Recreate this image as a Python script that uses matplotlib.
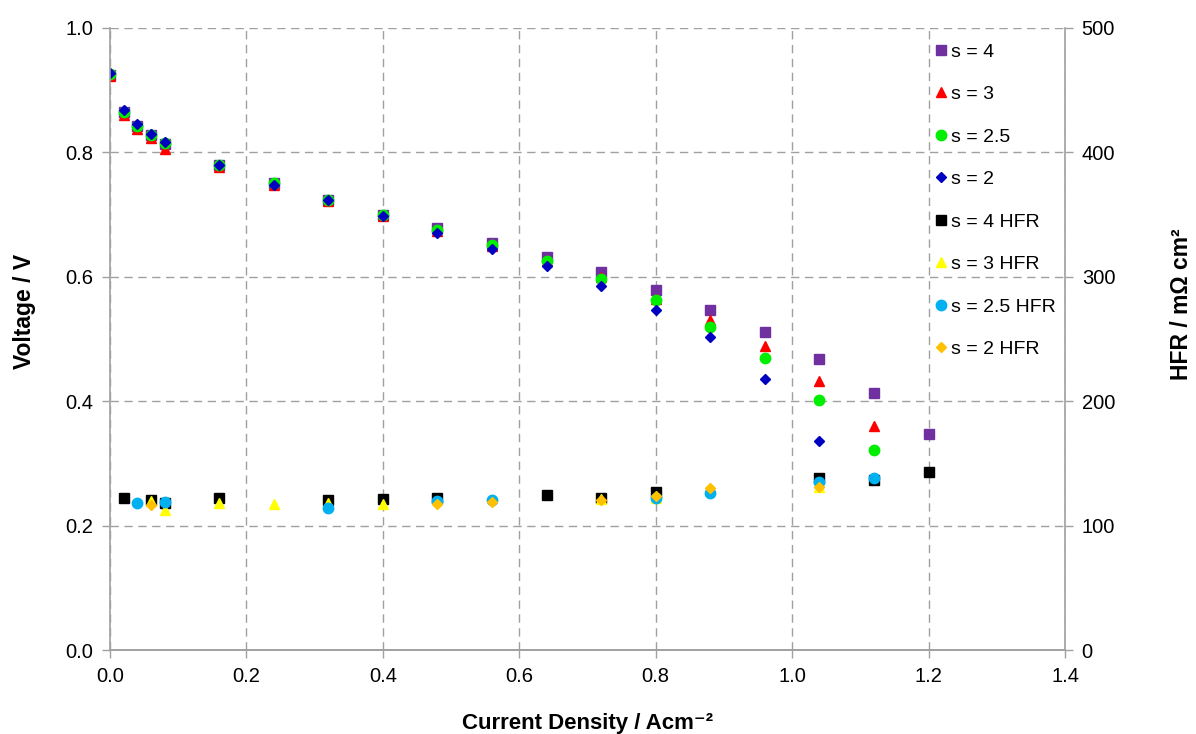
import matplotlib
matplotlib.use("Agg")
import matplotlib.pyplot as plt

plt.rcParams['font.family'] = ['Liberation Sans', 'DejaVu Sans']

# Data
current = [0.0, 0.02, 0.04, 0.06, 0.08, 0.16, 0.24, 0.32, 0.40, 0.48, 0.56,
           0.64, 0.72, 0.80, 0.88, 0.96, 1.04, 1.12, 1.20]

v_s4 = [0.925, 0.865, 0.842, 0.828, 0.813, 0.779, 0.750, 0.724, 0.700, 0.678,
        0.655, 0.632, 0.608, 0.578, 0.546, 0.511, 0.468, 0.413, 0.347]
v_s3 = [0.922, 0.860, 0.838, 0.823, 0.806, 0.776, 0.748, 0.722, 0.697, 0.674,
        0.650, 0.625, 0.600, 0.565, 0.530, 0.488, 0.433, 0.360]
v_s25 = [0.926, 0.865, 0.843, 0.828, 0.815, 0.780, 0.751, 0.724, 0.700, 0.676,
         0.651, 0.625, 0.597, 0.562, 0.520, 0.470, 0.402, 0.322]
v_s2 = [0.928, 0.868, 0.846, 0.830, 0.817, 0.780, 0.748, 0.723, 0.697, 0.671,
        0.645, 0.617, 0.585, 0.547, 0.503, 0.436, 0.336]

# HFR (mOhm cm2), each with its own current points
hfr_s4_x = [0.02, 0.06, 0.08, 0.16, 0.32, 0.40, 0.48, 0.64, 0.72, 0.80, 1.04, 1.12, 1.20]
hfr_s4 = [122.5, 120.5, 118.5, 122.5, 120.5, 121.5, 122.5, 124.3, 122.5, 127.0, 138.0, 137.0, 143.0]
hfr_s3_x = [0.06, 0.08, 0.16, 0.24, 0.32, 0.40, 0.72, 0.80, 1.04]
hfr_s3 = [119.5, 112.5, 118.0, 117.0, 118.0, 117.0, 121.0, 122.5, 131.0]
hfr_s25_x = [0.04, 0.08, 0.32, 0.48, 0.56, 0.80, 0.88, 1.04, 1.12]
hfr_s25 = [118.0, 119.0, 114.0, 119.5, 120.5, 122.0, 126.0, 134.8, 138.5]
hfr_s2_x = [0.06, 0.48, 0.56, 0.72, 0.80, 0.88, 1.04]
hfr_s2 = [116.5, 117.4, 119.0, 120.6, 124.0, 130.0, 131.3]

fig = plt.figure(figsize=(11.96, 7.34), dpi=100)
ax = fig.add_axes([0.092, 0.1144, 0.7985, 0.8475])
ax2 = ax.twinx()

h1, = ax.plot(current[:len(v_s4)], v_s4, 's', color='#7030A0', ms=7.5, ls='none', label='s = 4')
h2, = ax.plot(current[:len(v_s3)], v_s3, '^', color='#FF0000', ms=7.5, ls='none', label='s = 3')
h3, = ax.plot(current[:len(v_s25)], v_s25, 'o', color='#00EE00', ms=7.5, ls='none', label='s = 2.5')
h4, = ax.plot(current[:len(v_s2)], v_s2, 'D', color='#0000C0', ms=5.5, ls='none', label='s = 2')

h5, = ax2.plot(hfr_s4_x, hfr_s4, 's', color='black', ms=7.5, ls='none', label='s = 4 HFR')
h6, = ax2.plot(hfr_s3_x, hfr_s3, '^', color='#FFFF00', ms=7.5, ls='none', label='s = 3 HFR')
h7, = ax2.plot(hfr_s25_x, hfr_s25, 'o', color='#00B0F0', ms=7.5, ls='none', label='s = 2.5 HFR')
h8, = ax2.plot(hfr_s2_x, hfr_s2, 'D', color='#FFC000', ms=5.5, ls='none', label='s = 2 HFR')

ax.set_xlim(0, 1.4)
ax.set_ylim(0, 1.0)
ax2.set_ylim(0, 500)
ax.set_xticks([0.0, 0.2, 0.4, 0.6, 0.8, 1.0, 1.2, 1.4])
ax.set_yticks([0.0, 0.2, 0.4, 0.6, 0.8, 1.0])
ax2.set_yticks([0, 100, 200, 300, 400, 500])
ax.xaxis.set_major_formatter(matplotlib.ticker.FormatStrFormatter('%.1f'))
ax.yaxis.set_major_formatter(matplotlib.ticker.FormatStrFormatter('%.1f'))

ax.grid(True, color='#a0a0a0', linestyle=(0, (6, 4)), linewidth=1)
ax.set_axisbelow(True)

for a in (ax, ax2):
    a.spines['top'].set_visible(False)
    for s in ('left', 'right', 'bottom'):
        a.spines[s].set_color('#a0a0a0')
        a.spines[s].set_linewidth(1.2)
    a.tick_params(direction='out', length=6, width=1, color='#a0a0a0',
                  labelsize=14.5, pad=6)
ax.spines['right'].set_visible(False)
ax2.spines['left'].set_visible(False)

ax.set_xlabel('Current Density / Acm\u207b\u00b2', fontsize=16, fontweight='bold', labelpad=20)
ax.set_ylabel('Voltage / V', fontsize=16.5, fontweight='bold')
ax2.set_ylabel('HFR / m\u03a9 cm\u00b2', fontsize=16.5, fontweight='bold')
ax.yaxis.set_label_coords(-0.077, 0.545)
ax2.yaxis.set_label_coords(1.110, 0.556)

fig.legend(handles=[h1, h2, h3, h4, h5, h6, h7, h8], loc='upper left',
           bbox_to_anchor=(0.775, 0.952), frameon=False, fontsize=14,
           labelspacing=1.28, handlelength=0.7, handletextpad=0.15,
           borderaxespad=0)

fig.savefig('out.png', dpi=100)
